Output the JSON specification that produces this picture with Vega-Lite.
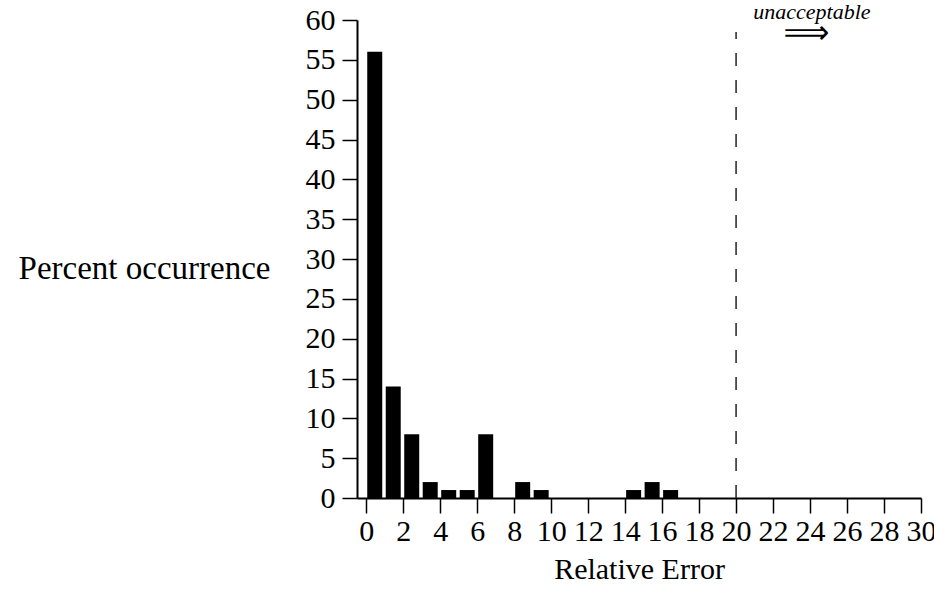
{
  "$schema": "https://vega.github.io/schema/vega-lite/v6.json",
  "width": 564,
  "height": 478,
  "autosize": {"type": "none"},
  "padding": {"left": 357, "top": 20, "right": 13, "bottom": 106},
  "background": "white",
  "config": {
    "view": {"stroke": null},
    "font": "Liberation Serif",
    "axis": {
      "grid": false,
      "domainColor": "black",
      "domainWidth": 2,
      "tickColor": "black",
      "tickWidth": 1.5,
      "tickSize": 15,
      "labelColor": "black",
      "labelFont": "Liberation Serif",
      "labelFontSize": 30,
      "labelOverlap": false,
      "labelFlush": false,
      "titleFont": "Liberation Serif",
      "titleFontSize": 30,
      "titleFontWeight": "normal",
      "titleColor": "black"
    }
  },
  "datasets": {
    "hist": [
      {"lo": 0, "hi": 1, "pct": 56},
      {"lo": 1, "hi": 2, "pct": 14},
      {"lo": 2, "hi": 3, "pct": 8},
      {"lo": 3, "hi": 4, "pct": 2},
      {"lo": 4, "hi": 5, "pct": 1},
      {"lo": 5, "hi": 6, "pct": 1},
      {"lo": 6, "hi": 7, "pct": 8},
      {"lo": 7, "hi": 8, "pct": 0},
      {"lo": 8, "hi": 9, "pct": 2},
      {"lo": 9, "hi": 10, "pct": 1},
      {"lo": 10, "hi": 11, "pct": 0},
      {"lo": 11, "hi": 12, "pct": 0},
      {"lo": 12, "hi": 13, "pct": 0},
      {"lo": 13, "hi": 14, "pct": 0},
      {"lo": 14, "hi": 15, "pct": 1},
      {"lo": 15, "hi": 16, "pct": 2},
      {"lo": 16, "hi": 17, "pct": 1}
    ]
  },
  "layer": [
    {
      "data": {"name": "hist"},
      "mark": {"type": "bar", "color": "black", "xOffset": 1, "x2Offset": -2.5},
      "encoding": {
        "x": {
          "field": "lo",
          "type": "quantitative",
          "scale": {"domain": [-0.5, 30], "nice": false, "zero": false},
          "axis": {
            "values": [0, 2, 4, 6, 8, 10, 12, 14, 16, 18, 20, 22, 24, 26, 28, 30],
            "title": "Relative Error",
            "labelPadding": 3,
            "titlePadding": 8
          }
        },
        "x2": {"field": "hi"},
        "y": {
          "field": "pct",
          "type": "quantitative",
          "scale": {"domain": [0, 60], "nice": false},
          "axis": {
            "values": [0, 5, 10, 15, 20, 25, 30, 35, 40, 45, 50, 55, 60],
            "title": "Percent occurrence",
            "titleFontSize": 33,
            "titleAngle": 0,
            "titleAlign": "right",
            "titleBaseline": "middle",
            "titleX": -87,
            "titleY": 248,
            "labelPadding": 7
          }
        },
        "y2": {"datum": 0}
      }
    },
    {
      "data": {"values": [{}]},
      "mark": {"type": "rule", "strokeDash": [13, 14], "strokeWidth": 1.5, "color": "#222"},
      "encoding": {
        "x": {
          "datum": 20,
          "type": "quantitative",
          "axis": {
            "values": [0, 2, 4, 6, 8, 10, 12, 14, 16, 18, 20, 22, 24, 26, 28, 30],
            "title": "Relative Error",
            "labelPadding": 3,
            "titlePadding": 8
          }
        },
        "y": {
          "datum": 0,
          "type": "quantitative",
          "axis": {
            "values": [0, 5, 10, 15, 20, 25, 30, 35, 40, 45, 50, 55, 60],
            "title": "Percent occurrence",
            "titleFontSize": 33,
            "titleAngle": 0,
            "titleAlign": "right",
            "titleBaseline": "middle",
            "titleX": -87,
            "titleY": 248,
            "labelPadding": 7
          }
        },
        "y2": {"datum": 58.5}
      }
    },
    {
      "data": {"values": [{}]},
      "mark": {"type": "text", "text": "unacceptable", "font": "Liberation Serif", "fontStyle": "italic", "fontSize": 22, "align": "center", "baseline": "middle", "color": "black"},
      "encoding": {
        "x": {
          "datum": 24.1,
          "type": "quantitative",
          "axis": {
            "values": [0, 2, 4, 6, 8, 10, 12, 14, 16, 18, 20, 22, 24, 26, 28, 30],
            "title": "Relative Error",
            "labelPadding": 3,
            "titlePadding": 8
          }
        },
        "y": {
          "datum": 61,
          "type": "quantitative",
          "axis": {
            "values": [0, 5, 10, 15, 20, 25, 30, 35, 40, 45, 50, 55, 60],
            "title": "Percent occurrence",
            "titleFontSize": 33,
            "titleAngle": 0,
            "titleAlign": "right",
            "titleBaseline": "middle",
            "titleX": -87,
            "titleY": 248,
            "labelPadding": 7
          }
        }
      }
    },
    {
      "data": {"values": [{}]},
      "mark": {"type": "text", "text": "⟹", "font": "DejaVu Sans", "fontSize": 32, "align": "center", "baseline": "middle", "color": "black"},
      "encoding": {
        "x": {
          "datum": 23.8,
          "type": "quantitative",
          "axis": {
            "values": [0, 2, 4, 6, 8, 10, 12, 14, 16, 18, 20, 22, 24, 26, 28, 30],
            "title": "Relative Error",
            "labelPadding": 3,
            "titlePadding": 8
          }
        },
        "y": {
          "datum": 58.4,
          "type": "quantitative",
          "axis": {
            "values": [0, 5, 10, 15, 20, 25, 30, 35, 40, 45, 50, 55, 60],
            "title": "Percent occurrence",
            "titleFontSize": 33,
            "titleAngle": 0,
            "titleAlign": "right",
            "titleBaseline": "middle",
            "titleX": -87,
            "titleY": 248,
            "labelPadding": 7
          }
        }
      }
    }
  ]
}
